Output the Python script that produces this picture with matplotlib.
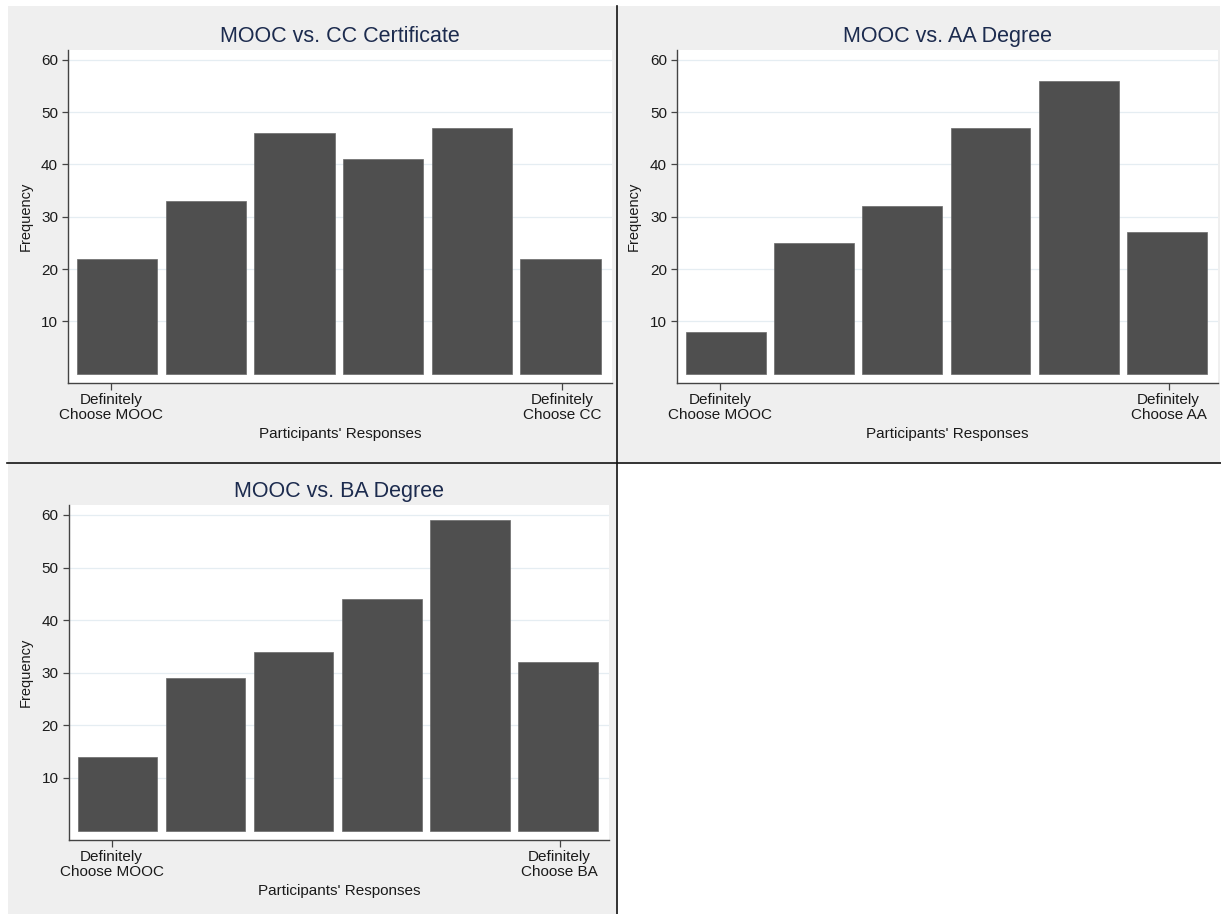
import matplotlib
matplotlib.use("Agg")
import matplotlib.pyplot as plt
from matplotlib.patches import Rectangle
from matplotlib.lines import Line2D

plt.rcParams['font.family'] = ['Liberation Sans', 'DejaVu Sans']

# ---- data ----
responses = [1, 2, 3, 4, 5, 6]
titles = ["MOOC vs. CC Certificate", "MOOC vs. AA Degree", "MOOC vs. BA Degree"]
freq_cc = [22, 33, 46, 41, 47, 22]
freq_aa = [8, 25, 32, 47, 56, 27]
freq_ba = [14, 29, 34, 44, 59, 32]
right_labels = ["Definitely\nChoose CC", "Definitely\nChoose AA", "Definitely\nChoose BA"]
left_label = "Definitely\nChoose MOOC"
y_ticks = [10, 20, 30, 40, 50, 60]
x_tick_pos = [0.935, 6.02]
xlabel = "Participants' Responses"
ylabel = "Frequency"

W, H = 1221, 914
fig = plt.figure(figsize=(W / 100, H / 100), dpi=100)
fig.patch.set_facecolor('white')

def fx(x):
    return x / W

def fy(y):
    return 1 - y / H

# panel backgrounds (pixel boxes: left, top, right, bottom)
panels = [(8, 6, 616, 462), (617, 6, 1220, 462), (8, 463, 616, 914)]
for (l, t, r, b) in panels:
    fig.patches.append(Rectangle((fx(l), fy(b)), fx(r) - fx(l), fy(t) - fy(b),
                                 transform=fig.transFigure, facecolor='#efefef',
                                 edgecolor='none', zorder=-10))

# separators
fig.lines.append(Line2D([fx(7), fx(1221)], [fy(462.5), fy(462.5)],
                        transform=fig.transFigure, color='#111111', lw=1.2, zorder=5))
fig.lines.append(Line2D([fx(616.5), fx(616.5)], [fy(6), fy(914)],
                        transform=fig.transFigure, color='#111111', lw=1.2, zorder=5))

# axes boxes in pixels: left, right, top, bottom
boxes = [(68, 612, 50, 383), (677, 1218, 50, 383), (68.5, 609, 505, 840)]
series = [freq_cc, freq_aa, freq_ba]
title_base = [42, 42, 497]
xlab_y = [434, 434, 890.5]
ylab_x = [25.7, 633.7, 25.3]

for i, (l, r, t, b) in enumerate(boxes):
    ax = fig.add_axes([fx(l), fy(b), fx(r) - fx(l), fy(t) - fy(b)])
    ax.set_zorder(1)
    ax.set_facecolor('white')
    ax.set_xlim(0.445, 6.58)
    ax.set_ylim(-1.8, 61.9)
    ax.set_yticks(y_ticks)
    ax.yaxis.grid(True, color='#e5edf2', lw=0.9, zorder=0)
    ax.set_axisbelow(True)
    ax.bar(responses, series[i], width=0.905, color='#4f4f4f',
           edgecolor='#6a6a6a', linewidth=0.5, zorder=2)
    ax.set_xticks(x_tick_pos)
    ax.set_xticklabels([left_label, right_labels[i]], fontsize=11,
                       linespacing=1.05, color='#1a1a1a')
    for s in ['top', 'right']:
        ax.spines[s].set_visible(False)
    for s in ['left', 'bottom']:
        ax.spines[s].set_color('#444444')
        ax.spines[s].set_linewidth(1.0)
    ax.tick_params(axis='y', length=4, width=0.9, color='#444444', pad=3.2,
                   labelsize=11, labelcolor='#1a1a1a')
    ax.tick_params(axis='x', length=5, width=0.9, color='#444444', pad=2.5)
    cx = (l + r) / 2
    fig.text(fx(cx), fy(title_base[i]), titles[i], ha='center', va='baseline',
             fontsize=15.5, color='#1c2b4e')
    fig.text(fx(cx), fy(xlab_y[i]), xlabel, ha='center', va='center',
             fontsize=11, color='#1a1a1a')
    fig.text(fx(ylab_x[i]), fy((t + b) / 2), ylabel, ha='center', va='center',
             rotation=90, fontsize=10.5, color='#1a1a1a')

fig.savefig('out.png', dpi=100, facecolor='white')
